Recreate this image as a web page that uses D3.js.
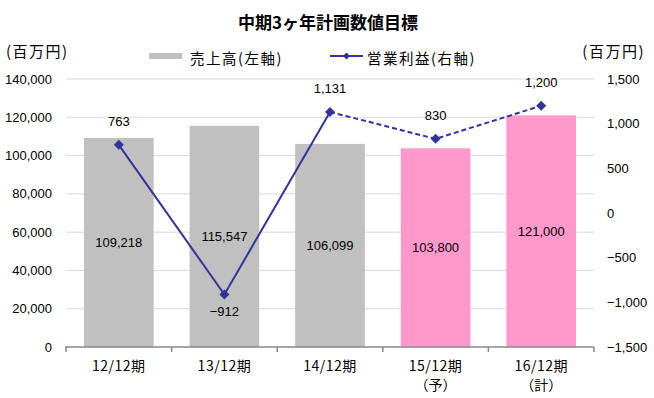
<!DOCTYPE html>
<html><head><meta charset="utf-8">
<script src="https://cdn.jsdelivr.net/npm/d3@7"></script>
<style>body{margin:0;background:#fff}svg{display:block}</style>
</head><body>
<svg id="c" width="654" height="398"></svg>
<script>
const categories = ["12/12期","13/12期","14/12期","15/12期","16/12期"];
const subLabels = ["","","","（予）","（計）"];
const sales = [109218,115547,106099,103800,121000];
const profit = [763,-912,1131,830,1200];
const leftTicks = [0,20000,40000,60000,80000,100000,120000,140000];
const rightTicks = [-1500,-1000,-500,0,500,1000,1500];
const barColors = ["#c0c0c0","#c0c0c0","#c0c0c0","#ff99cc","#ff99cc"];
const title = "中期3ヶ年計画数値目標";
const unit = "(百万円)";
const legendSales = "売上高(左軸)";
const legendProfit = "営業利益(右軸)";

const svg = d3.select("#c");
const numFont = "'Liberation Sans', Arial, sans-serif";
const jpFont = "'Noto Sans CJK JP', sans-serif";
const lineColor = "#333399";

const L = 66, R = 594, T = 79, B = 347;
const x = d3.scaleBand().domain(categories).range([L, R]).paddingInner(0.34).paddingOuter(0.17);
const yL = d3.scaleLinear().domain([0,140000]).range([B, T]);
const yR = d3.scaleLinear().domain([-1500,1500]).range([B, T]);
const fmt = d3.format(",");

// title
svg.append("text").attr("x", 328).attr("y", 21).attr("text-anchor","middle")
  .attr("dominant-baseline","central").attr("font-family", jpFont).attr("font-weight","bold")
  .attr("font-size", 17).text(title);

// units
svg.append("text").attr("x", 6).attr("y", 50).attr("dominant-baseline","central")
  .attr("font-family", jpFont).attr("font-size", 15).attr("letter-spacing","1.5px").text(unit);
svg.append("text").attr("x", 645).attr("y", 50).attr("text-anchor","end").attr("dominant-baseline","central")
  .attr("font-family", jpFont).attr("font-size", 15).attr("letter-spacing","1.5px").text(unit);

// legend
svg.append("rect").attr("x",149).attr("y",53).attr("width",33).attr("height",6).attr("fill","#c0c0c0");
svg.append("text").attr("x",190).attr("y",57).attr("dominant-baseline","central")
  .attr("font-family", jpFont).attr("font-size",14.5).attr("letter-spacing","1.5px").text(legendSales);
svg.append("line").attr("x1",330).attr("x2",363).attr("y1",56).attr("y2",56)
  .attr("stroke",lineColor).attr("stroke-width",2);
svg.append("path").attr("d", d3.symbol(d3.symbolSquare, 26)()).attr("fill",lineColor)
  .attr("transform","translate(346.5,56) rotate(45)");
svg.append("text").attr("x",367).attr("y",57).attr("dominant-baseline","central")
  .attr("font-family", jpFont).attr("font-size",14.5).attr("letter-spacing","1.5px").text(legendProfit);

// gridlines
svg.append("g").selectAll("line").data(leftTicks.filter(d=>d>0)).join("line")
  .attr("x1", L).attr("x2", R).attr("y1", d=>yL(d)).attr("y2", d=>yL(d))
  .attr("stroke","#d9d9d9").attr("stroke-width",1);

// left axis labels
svg.append("g").selectAll("text").data(leftTicks).join("text")
  .attr("x", 52).attr("y", d=>yL(d)).attr("text-anchor","end").attr("dominant-baseline","central")
  .attr("font-family", numFont).attr("font-size",13).text(d=>fmt(d));
// right axis labels
svg.append("g").selectAll("text").data(rightTicks).join("text")
  .attr("x", 607).attr("y", d=>yR(d)).attr("dominant-baseline","central")
  .attr("font-family", numFont).attr("font-size",13).text(d=>d3.format(",")(d));

// bars
svg.append("g").selectAll("rect").data(sales).join("rect")
  .attr("x",(d,i)=>x(categories[i])).attr("width", x.bandwidth())
  .attr("y", d=>yL(d)).attr("height", d=>yL(0)-yL(d))
  .attr("fill",(d,i)=>barColors[i]);

// bottom axis
const axisG = svg.append("g");
axisG.append("line").attr("x1",L-1).attr("x2",R).attr("y1",B).attr("y2",B).attr("stroke","#888").attr("stroke-width",1.5);
const bounds = categories.map(c=>x(c) - x.step()*x.paddingInner()/2).concat([R]);
bounds[0] = L;
axisG.selectAll("line.t").data(bounds).join("line").attr("class","t")
  .attr("x1",d=>d).attr("x2",d=>d).attr("y1",B).attr("y2",B+5).attr("stroke","#888").attr("stroke-width",1.5);

// category labels
svg.append("g").selectAll("text").data(categories).join("text")
  .attr("x", d=>x(d)+x.bandwidth()/2).attr("y", 365).attr("text-anchor","middle")
  .attr("dominant-baseline","central").attr("font-family", jpFont).attr("font-size",14)
  .attr("letter-spacing","0.5px").text(d=>d);
svg.append("g").selectAll("text").data(subLabels).join("text")
  .attr("x", (d,i)=>x(categories[i])+x.bandwidth()/2).attr("y", 384).attr("text-anchor","middle")
  .attr("dominant-baseline","central").attr("font-family", jpFont).attr("font-size",14).text(d=>d);

// bar value labels
svg.append("g").selectAll("text").data(sales).join("text")
  .attr("x",(d,i)=>x(categories[i])+x.bandwidth()/2).attr("y", d=>yL(d/2))
  .attr("text-anchor","middle").attr("dominant-baseline","central")
  .attr("font-family", numFont).attr("font-size",13).text(d=>fmt(d));

// profit line
const pts = profit.map((v,i)=>[x(categories[i])+x.bandwidth()/2, yR(v)]);
const line = d3.line();
svg.append("path").attr("d", line(pts.slice(0,3))).attr("fill","none")
  .attr("stroke",lineColor).attr("stroke-width",2);
svg.append("path").attr("d", line(pts.slice(2))).attr("fill","none")
  .attr("stroke",lineColor).attr("stroke-width",2).attr("stroke-dasharray","5,3");
svg.append("g").selectAll("path").data(pts).join("path")
  .attr("d", d3.symbol(d3.symbolSquare, 50)()).attr("fill",lineColor)
  .attr("transform", d=>`translate(${d[0]},${d[1]}) rotate(45)`);

// profit labels
svg.append("g").selectAll("text").data(profit).join("text")
  .attr("x",(d,i)=>pts[i][0]).attr("y",(d,i)=> d<0 ? pts[i][1]+17 : pts[i][1]-23)
  .attr("text-anchor","middle").attr("dominant-baseline","central")
  .attr("font-family", numFont).attr("font-size",13).text(d=>fmt(d));
</script>
</body></html>
